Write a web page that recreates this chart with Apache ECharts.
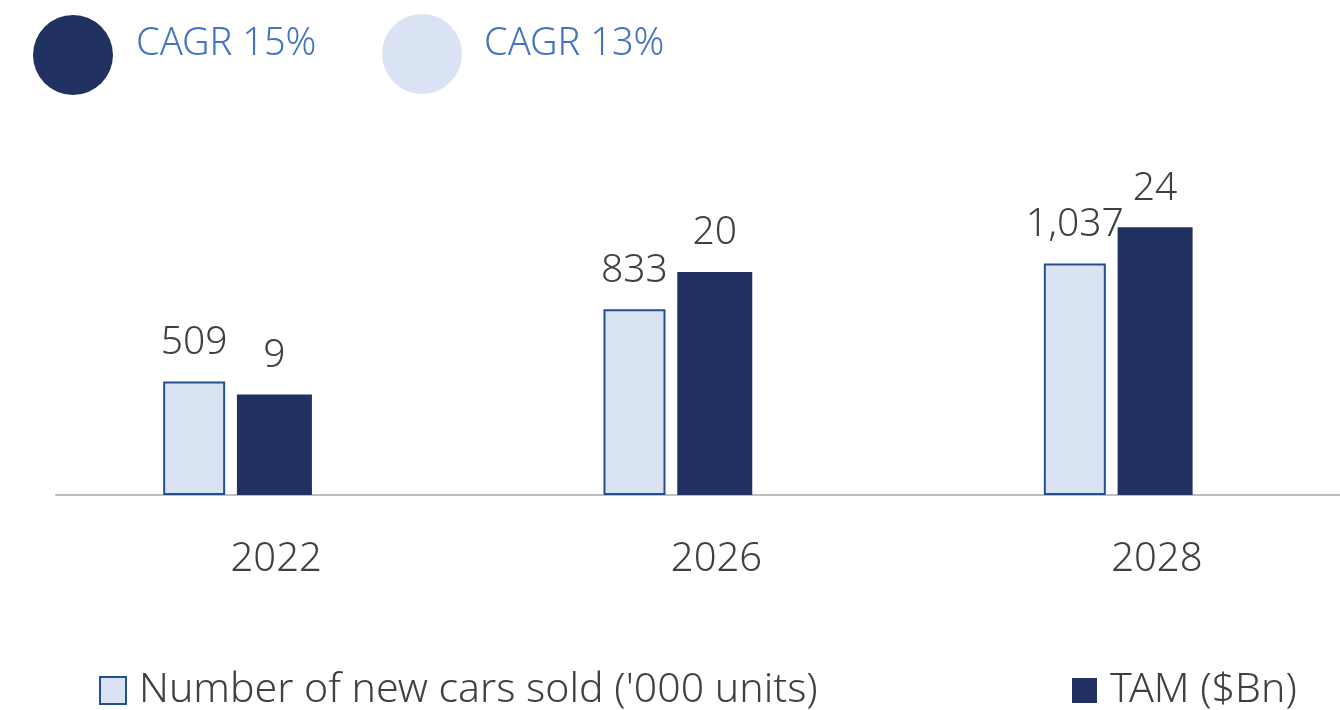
<!DOCTYPE html>
<html>
<head>
<meta charset="utf-8">
<script src="https://cdn.jsdelivr.net/npm/echarts@6/dist/echarts.min.js"></script>
<style>
  html, body { margin: 0; padding: 0; background: #fff; overflow: hidden; }
  /* chart runs a little past the right edge, like the source slide */
  #chart { width: 1377px; height: 710px; }
</style>
</head>
<body>
<div id="chart"></div>
<script>
const years = ['2022', '2026', '2028']
const carsSold = [509, 833, 1037]
const tamBn = [9, 20, 24]
const seriesNames = ["Number of new cars sold ('000 units)", 'TAM ($Bn)']
const cagrLabels = ['CAGR 15%', 'CAGR 13%']

const NAVY = '#213262'
const LIGHT = '#DAE3F3'
const EDGE = '#24508F'
const TEXT = '#404040'
const FONT = 'Noto Sans'

const chart = echarts.init(document.getElementById('chart'))

const valueLabel = {
  show: true,
  position: 'top',
  distance: 19,
  color: TEXT,
  fontFamily: FONT,
  fontWeight: 300,
  fontSize: 39,
  formatter: (p) => p.value.toLocaleString('en-US'),
}

const legendText = {
  color: TEXT, fontFamily: FONT, fontWeight: 300, fontSize: 41,
  padding: [0, 0, 0, 8],
}

chart.setOption({
  animation: false,
  textStyle: { fontFamily: FONT },
  grid: { left: 56, right: 0, top: 138, bottom: 215 },
  legend: [
    {
      data: [seriesNames[0]],
      left: 99, top: 670, padding: 0,
      itemWidth: 26, itemHeight: 27, itemGap: 10,
      icon: 'rect',
      textStyle: legendText,
    },
    {
      data: [seriesNames[1]],
      left: 1072, top: 670, padding: 0,
      itemWidth: 25, itemHeight: 25, itemGap: 10,
      icon: 'rect',
      textStyle: legendText,
    },
  ],
  xAxis: {
    type: 'category',
    data: years,
    axisLine: { lineStyle: { color: '#BFBFBF', width: 2 } },
    axisTick: { show: false },
    axisLabel: { color: TEXT, fontFamily: FONT, fontWeight: 300, fontSize: 40, margin: 45 },
  },
  yAxis: [
    { type: 'value', min: 0, max: 1600, show: false, splitLine: { show: false } },
    { type: 'value', min: 0, max: 32, show: false, splitLine: { show: false } },
  ],
  graphic: [
    { type: 'circle', shape: { cx: 73, cy: 55, r: 40 }, style: { fill: NAVY } },
    { type: 'text', left: 136, top: 25, style: { text: cagrLabels[0], fill: '#4472C4', font: `300 38px "${FONT}"` } },
    { type: 'circle', shape: { cx: 422, cy: 54, r: 40 }, style: { fill: LIGHT } },
    { type: 'text', left: 484, top: 25, style: { text: cagrLabels[1], fill: '#4472C4', font: `300 38px "${FONT}"` } },
  ],
  series: [
    {
      name: seriesNames[0],
      type: 'bar',
      yAxisIndex: 0,
      barWidth: 62,
      barGap: '19%',
      data: carsSold,
      itemStyle: { color: LIGHT, borderColor: EDGE, borderWidth: 2 },
      label: valueLabel,
    },
    {
      name: seriesNames[1],
      type: 'bar',
      yAxisIndex: 1,
      barWidth: 75,
      barGap: '19%',
      data: tamBn,
      itemStyle: { color: NAVY },
      label: valueLabel,
    },
    {
      // empty slot so the TAM bar sits on the category centre
      name: 'spacer',
      type: 'bar',
      yAxisIndex: 0,
      barWidth: 63,
      barGap: '19%',
      data: [],
      silent: true,
    },
  ],
})
</script>
</body>
</html>
